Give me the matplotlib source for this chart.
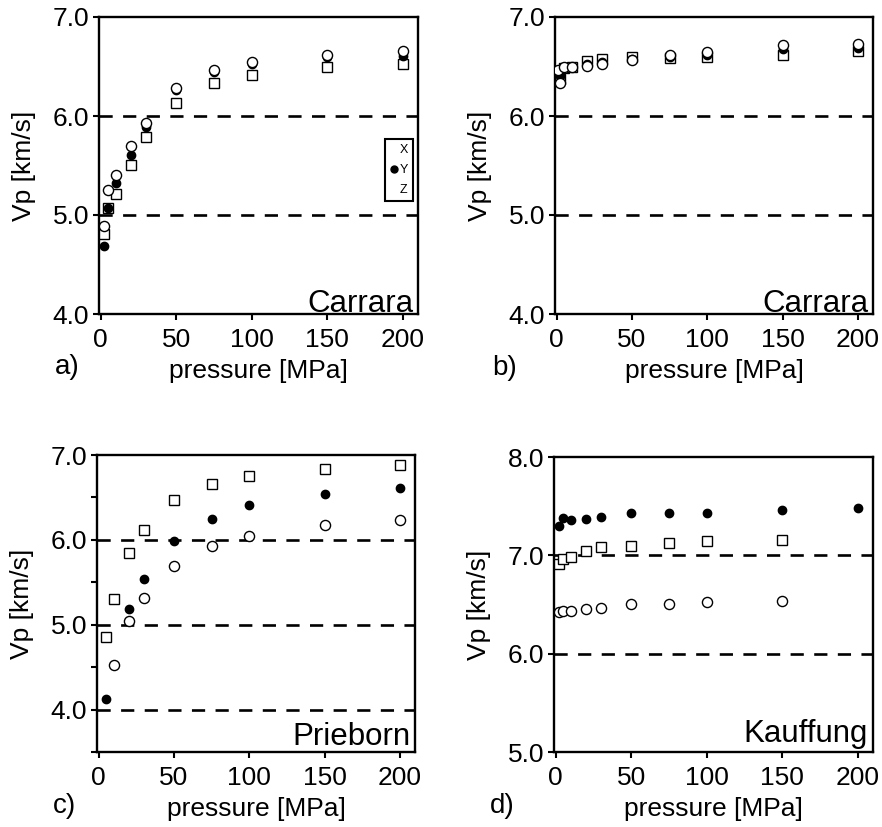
import matplotlib
matplotlib.use("Agg")
import matplotlib.pyplot as plt
from matplotlib.lines import Line2D

plt.rcParams['font.family'] = ['Liberation Sans', 'DejaVu Sans']
plt.rcParams['lines.scale_dashes'] = False

# ---------------- data ----------------
# panel a (Carrara)
a_x_circ = [2, 5, 10, 20, 30, 50, 75, 100, 150, 200]
a_y_circ = [4.89, 5.25, 5.40, 5.70, 5.93, 6.28, 6.46, 6.55, 6.62, 6.66]
a_x_fill = [2, 5, 10, 20, 30, 50, 75, 100, 150, 200]
a_y_fill = [4.69, 5.07, 5.32, 5.61, 5.89, 6.26, 6.44, 6.53, 6.60, 6.61]
a_x_sq = [2, 5, 10, 20, 30, 50, 75, 100, 150, 200]
a_y_sq = [4.81, 5.07, 5.21, 5.51, 5.79, 6.13, 6.33, 6.41, 6.50, 6.53]

# panel b (Carrara)
b_x_circ = [1, 2, 5, 10, 20, 30, 50, 75, 100, 150, 200]
b_y_circ = [6.46, 6.33, 6.50, 6.50, 6.51, 6.53, 6.57, 6.62, 6.65, 6.72, 6.73]
b_x_fill = [2, 5, 10, 20, 30, 50, 75, 100, 150, 200]
b_y_fill = [6.40, 6.49, 6.50, 6.53, 6.55, 6.58, 6.60, 6.62, 6.68, 6.69]
b_x_sq = [2, 5, 10, 20, 30, 50, 75, 100, 150, 200]
b_y_sq = [6.37, 6.48, 6.50, 6.56, 6.58, 6.60, 6.59, 6.60, 6.62, 6.66]

# panel c (Prieborn)
c_x_circ = [10, 20, 30, 50, 75, 100, 150, 200]
c_y_circ = [4.53, 5.04, 5.32, 5.69, 5.93, 6.04, 6.17, 6.23]
c_x_fill = [5, 20, 30, 50, 75, 100, 150, 200]
c_y_fill = [4.13, 5.19, 5.54, 5.99, 6.25, 6.41, 6.54, 6.61]
c_x_sq = [5, 10, 20, 30, 50, 75, 100, 150, 200]
c_y_sq = [4.86, 5.30, 5.85, 6.12, 6.47, 6.66, 6.75, 6.83, 6.88]

# panel d (Kauffung)
d_x_circ = [2, 5, 10, 20, 30, 50, 75, 100, 150]
d_y_circ = [6.42, 6.43, 6.43, 6.45, 6.46, 6.51, 6.51, 6.53, 6.54]
d_x_fill = [2, 5, 10, 20, 30, 50, 75, 100, 150, 200]
d_y_fill = [7.30, 7.38, 7.36, 7.37, 7.39, 7.43, 7.43, 7.43, 7.46, 7.48]
d_x_sq = [2, 5, 10, 20, 30, 50, 75, 100, 150]
d_y_sq = [6.91, 6.96, 6.98, 7.04, 7.08, 7.10, 7.13, 7.15, 7.16]

x_ticks = [0, 50, 100, 150, 200]
legend_labels = ['X', 'Y', 'Z']

# ---------------- figure ----------------
fig = plt.figure(figsize=(8.82, 8.27), dpi=100)

W, H = 882.0, 827.0
def ax_at(l, r, t, b):
    return fig.add_axes([l / W, 1 - b / H, (r - l) / W, (b - t) / H])

panels = [
    dict(ax=ax_at(99, 418, 17, 314), circ=(a_x_circ, a_y_circ), fill=(a_x_fill, a_y_fill),
         sq=(a_x_sq, a_y_sq), ylim=(4.0, 7.0), yticks=[4.0, 5.0, 6.0, 7.0], minor=[],
         hlines=[5.0, 6.0], name='Carrara', tag='a)', tagpos=(55, 367), namey=0.008, legend=True),
    dict(ax=ax_at(555, 873, 17, 314), circ=(b_x_circ, b_y_circ), fill=(b_x_fill, b_y_fill),
         sq=(b_x_sq, b_y_sq), ylim=(4.0, 7.0), yticks=[4.0, 5.0, 6.0, 7.0], minor=[],
         hlines=[5.0, 6.0], name='Carrara', tag='b)', tagpos=(492, 368), namey=0.008, legend=False),
    dict(ax=ax_at(97, 415, 455, 752), circ=(c_x_circ, c_y_circ), fill=(c_x_fill, c_y_fill),
         sq=(c_x_sq, c_y_sq), ylim=(3.5, 7.0), yticks=[4.0, 5.0, 6.0, 7.0], minor=[3.5, 4.5, 5.5, 6.5],
         hlines=[4.0, 5.0, 6.0], name='Prieborn', tag='c)', tagpos=(53, 806), namey=0.025, legend=False),
    dict(ax=ax_at(554, 873, 457, 752), circ=(d_x_circ, d_y_circ), fill=(d_x_fill, d_y_fill),
         sq=(d_x_sq, d_y_sq), ylim=(5.0, 8.0), yticks=[5.0, 6.0, 7.0, 8.0], minor=[],
         hlines=[6.0, 7.0], name='Kauffung', tag='d)', tagpos=(490, 806), namey=0.035, legend=False),
]

for p in panels:
    ax = p['ax']
    for yv in p['hlines']:
        ax.axhline(yv, color='black', lw=1.9, dashes=(9.5, 7.5), zorder=1)
    ax.plot(*p['sq'], linestyle='none', marker='s', ms=6.8, mfc='white', mec='black', mew=1.0, zorder=3)
    ax.plot(*p['fill'], linestyle='none', marker='o', ms=6.0, mfc='black', mec='black', mew=1.0, zorder=4)
    ax.plot(*p['circ'], linestyle='none', marker='o', ms=7.3, mfc='white', mec='black', mew=1.0, zorder=5)
    ax.set_xlim(-1, 210)
    ax.set_ylim(*p['ylim'])
    ax.set_xticks(x_ticks)
    ax.set_yticks(p['yticks'])
    ax.set_yticklabels([f'{v:.1f}' for v in p['yticks']])
    if p['minor']:
        ax.set_yticks(p['minor'], minor=True)
        ax.tick_params(axis='y', which='minor', direction='out', length=4, width=1.5)
    ax.tick_params(axis='both', which='major', direction='out', length=4, width=1.5,
                   labelsize=19)
    ax.tick_params(axis='y', pad=3)
    ax.tick_params(axis='x', pad=6)
    for s in ax.spines.values():
        s.set_linewidth(1.7)
    ax.set_xlabel('pressure [MPa]', fontsize=19, labelpad=5)
    ax.set_ylabel('Vp [km/s]', fontsize=19, labelpad=12)
    ax.text(0.985, p['namey'], p['name'], transform=ax.transAxes, ha='right', va='baseline',
            fontsize=22.5)
    fig.text(p['tagpos'][0] / W, 1 - p['tagpos'][1] / H, p['tag'], fontsize=20,
             ha='left', va='center')
    if p['legend']:
        handles = [
            Line2D([], [], linestyle='none', marker='o', ms=5, mfc='none', mec='none'),
            Line2D([], [], linestyle='none', marker='o', ms=5, mfc='black', mec='black'),
            Line2D([], [], linestyle='none', marker='s', ms=5, mfc='none', mec='none'),
        ]
        leg = ax.legend(handles, legend_labels, loc='upper right', bbox_to_anchor=(0.985, 0.59),
                        fontsize=9, handlelength=0.6, handletextpad=0.2, borderpad=0.4,
                        labelspacing=0.65, fancybox=False, framealpha=1, borderaxespad=0)
        leg.get_frame().set_edgecolor('black')
        leg.get_frame().set_linewidth(1.5)

fig.savefig('out.png', dpi=100)
